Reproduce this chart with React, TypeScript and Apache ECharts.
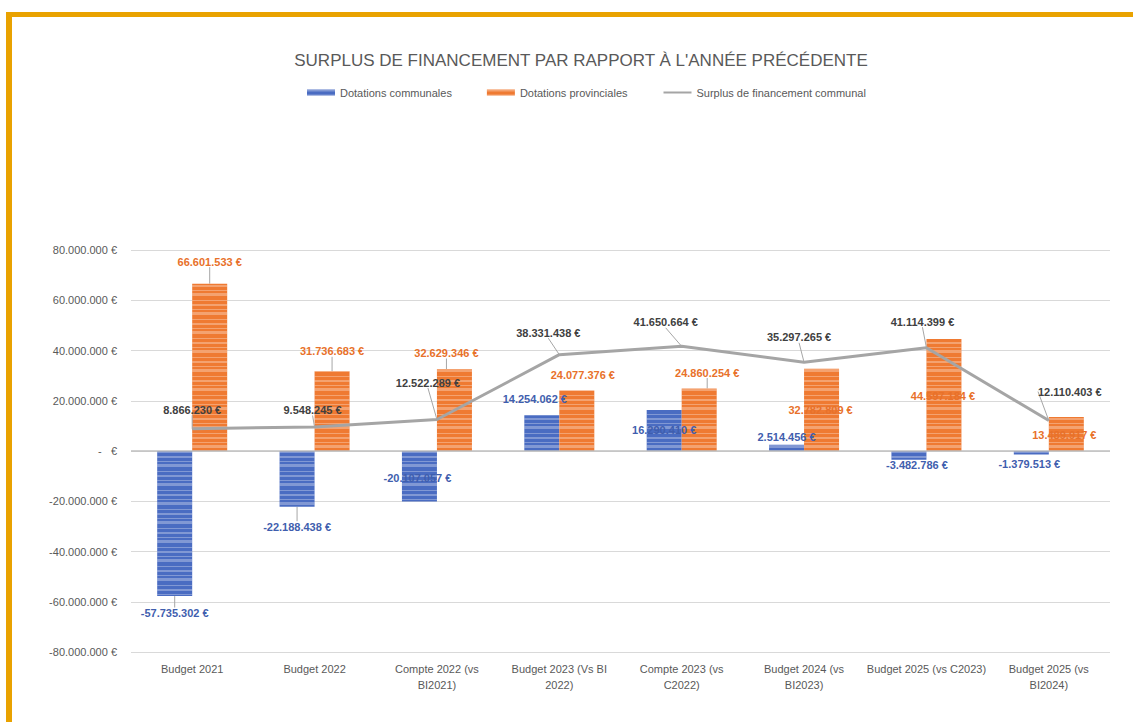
import React, { useEffect, useRef } from "react";
import * as echarts from "echarts";

const categories = [
  "Budget 2021",
  "Budget 2022",
  "Compte 2022 (vs\nBI2021)",
  "Budget 2023 (Vs BI\n2022)",
  "Compte 2023 (vs\nC2022)",
  "Budget 2024 (vs\nBI2023)",
  "Budget 2025 (vs C2023)",
  "Budget 2025 (vs\nBI2024)",
];

const dotationsCommunales = [
  -57735302, -22188438, -20107057, 14254062, 16290410, 2514456, -3482786, -1379513,
];
const dotationsProvinciales = [
  66601533, 31736683, 32629346, 24077376, 24860254, 32782809, 44597184, 13489917,
];
const surplusCommunal = [
  8866230, 9548245, 12522289, 38331438, 41650664, 35297265, 41114399, 12110403,
];

const yTicks = [-80000000, -60000000, -40000000, -20000000, 0, 20000000, 40000000, 60000000, 80000000];

// label offsets (px) relative to bar end / line point
const blueOffsets = [[0, 17], [0, 20], [-2, -24], [-7, -16], [0, 20], [0, -8], [8, 5], [-2, 10]];
const blueLeader = [true, true, false, false, false, false, false, false];
const orangeOffsets = [[0, -22], [0, -20], [-8, -16], [6, -16], [8, -16], [-1, 41], [-1, 57], [-2, 18]];
const orangeLeader = [true, true, true, false, true, false, false, false];
const lineOffsets = [[0, -19], [-2, -17], [-9, -37], [-11, -22], [-16, -24], [-5, -25], [-4, -26], [21, -29]];

const fmt = (v: number) => {
  const s = Math.abs(Math.round(v)).toString().replace(/\B(?=(\d{3})+(?!\d))/g, ".");
  return (v < 0 ? "-" : "") + s + " €";
};

const FONT = "'Liberation Sans', Arial, sans-serif";
const BLUE = "#4A6CC2";
const ORANGE = "#EF7A32";
const GREY = "#A5A5A5";

function barLayout(values: number[], offsets: number[][]) {
  return (p: any) => {
    const r = p.rect;
    const top = Math.min(r.y, r.y + r.height);
    const bottom = Math.max(r.y, r.y + r.height);
    const v = values[p.dataIndex];
    const o = offsets[p.dataIndex];
    return {
      x: r.x + r.width / 2 + o[0],
      y: (v >= 0 ? top : bottom) + o[1],
      align: "center",
      verticalAlign: "middle",
    };
  };
}

export default function App() {
  const ref = useRef<HTMLDivElement>(null);
  useEffect(() => {
    if (!ref.current) return;
    const chart = echarts.init(ref.current, null, { renderer: "svg" });
    const stripes = (c: string) => ({
      symbol: "rect",
      symbolSize: 1,
      color: c,
      dashArrayX: [1, 0],
      dashArrayY: [2, 3, 1, 2, 3, 4, 1, 3],
      rotation: 0,
    });
    chart.setOption({
      animation: false,
      backgroundColor: "#ffffff",
      textStyle: { fontFamily: FONT },
      title: {
        text: "SURPLUS DE FINANCEMENT PAR RAPPORT À L'ANNÉE PRÉCÉDENTE",
        left: 576,
        textAlign: "center",
        top: 47,
        textStyle: { fontFamily: FONT, fontSize: 17, fontWeight: "normal", color: "#595959" },
      },
      legend: {
        top: 82,
        left: 302,
        itemGap: 35,
        itemWidth: 28,
        itemHeight: 6,
        textStyle: { fontFamily: FONT, fontSize: 11, color: "#595959" },
        data: [
          { name: "Dotations communales", icon: "rect" },
          { name: "Dotations provinciales", icon: "rect" },
          { name: "Surplus de financement communal", itemStyle: { opacity: 0 } },
        ],
      },
      grid: { left: 131, right: 23, top: 250, bottom: 70, containLabel: false },
      xAxis: {
        type: "category",
        data: categories,
        axisLine: { show: false, onZero: false },
        axisTick: { show: false },
        axisLabel: {
          fontFamily: FONT,
          fontSize: 11,
          color: "#595959",
          lineHeight: 16,
          margin: 9,
          interval: 0,
        },
      },
      yAxis: {
        type: "value",
        min: yTicks[0],
        max: yTicks[yTicks.length - 1],
        interval: 20000000,
        axisLine: { show: false },
        axisTick: { show: false },
        splitLine: { lineStyle: { color: "#D9D9D9", width: 1 } },
        axisLabel: {
          fontFamily: FONT,
          fontSize: 11,
          color: "#595959",
          margin: 14,
          formatter: (v: number) => (v === 0 ? "-   €" : fmt(v)),
        },
      },
      series: [
        {
          name: "Dotations communales",
          type: "bar",
          barWidth: 35,
          barGap: "0%",
          data: dotationsCommunales.map((v, i) => ({
            value: v,
            labelLine: { show: blueLeader[i] },
          })),
          itemStyle: { color: BLUE, decal: stripes("rgba(255,255,255,0.3)") },
          label: {
            show: true,
            position: "inside",
            formatter: (p: any) => fmt(p.value),
            fontFamily: FONT,
            fontSize: 11,
            fontWeight: "bold",
            color: "#3F5EAE",
          },
          labelLine: { lineStyle: { color: "#A6A6A6", width: 1 } },
          labelLayout: barLayout(dotationsCommunales, blueOffsets),
          markLine: {
            silent: true,
            symbol: "none",
            label: { show: false },
            lineStyle: { color: "#BFBFBF", width: 1.5, type: "solid" },
            data: [{ yAxis: 0 }],
          },
          z: 2,
        },
        {
          name: "Dotations provinciales",
          type: "bar",
          barWidth: 35,
          barGap: "0%",
          data: dotationsProvinciales.map((v, i) => ({
            value: v,
            labelLine: { show: orangeLeader[i] },
          })),
          itemStyle: { color: ORANGE, decal: stripes("rgba(255,255,255,0.3)") },
          label: {
            show: true,
            position: "inside",
            formatter: (p: any) => fmt(p.value),
            fontFamily: FONT,
            fontSize: 11,
            fontWeight: "bold",
            color: "#E8712A",
          },
          labelLine: { lineStyle: { color: "#A6A6A6", width: 1 } },
          labelLayout: barLayout(dotationsProvinciales, orangeOffsets),
          z: 2,
        },
        {
          name: "Surplus de financement communal",
          type: "line",
          data: surplusCommunal,
          symbol: "circle",
          symbolSize: 1,
          showSymbol: true,
          lineStyle: { color: GREY, width: 3 },
          itemStyle: { color: GREY },
          label: {
            show: true,
            position: "top",
            formatter: (p: any) => fmt(p.value),
            fontFamily: FONT,
            fontSize: 11,
            fontWeight: "bold",
            color: "#404040",
          },
          labelLine: { show: true, lineStyle: { color: "#A6A6A6", width: 1 } },
          labelLayout: (p: any) => {
            const r = p.rect;
            const o = lineOffsets[p.dataIndex];
            return {
              x: r.x + r.width / 2 + o[0],
              y: r.y + r.height / 2 + o[1],
              align: "center",
              verticalAlign: "middle",
            };
          },
          z: 5,
        },
      ],
      graphic: [
        { type: "rect", shape: { x: 6, y: 12, width: 6, height: 710 }, style: { fill: "#E9A200" }, silent: true },
        { type: "rect", shape: { x: 6, y: 12, width: 1127, height: 5 }, style: { fill: "#E9A200" }, silent: true },
      ],
    });
    return () => chart.dispose();
  }, []);
  return (
    <div
      ref={ref}
      style={{ position: "fixed", left: 0, top: 0, width: 1133, height: 722, background: "#fff" }}
    />
  );
}
